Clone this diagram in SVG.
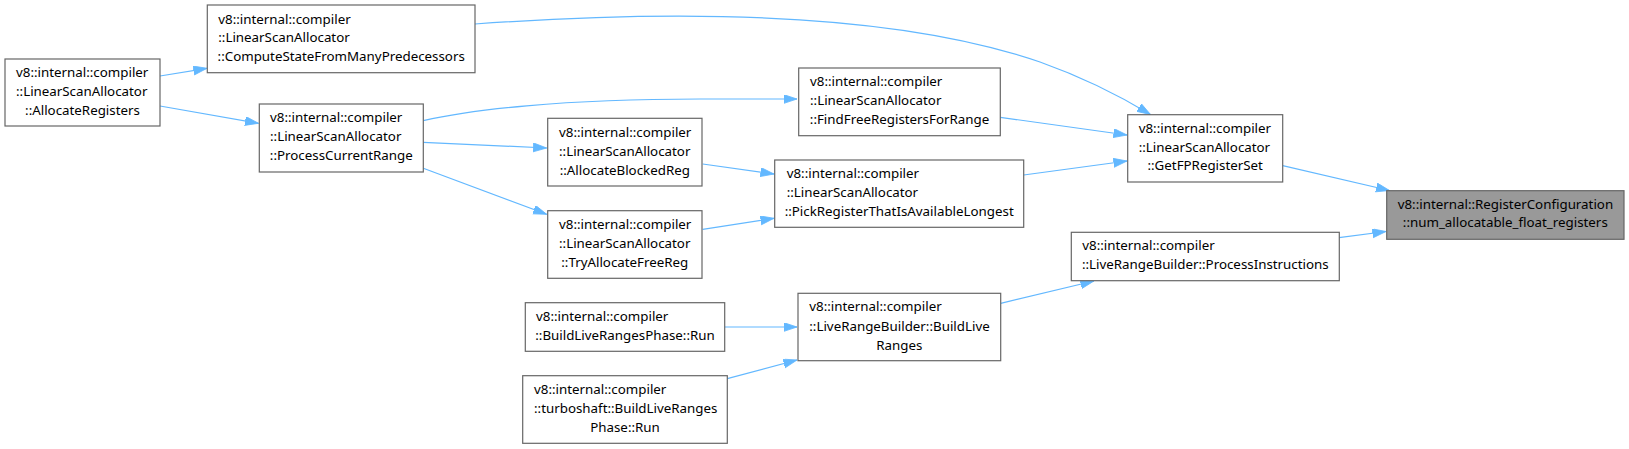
<svg xmlns="http://www.w3.org/2000/svg" width="1629" height="449" viewBox="0 0 1629 449">
<style>
.box{fill:#ffffff;stroke:#666666;stroke-width:1.2}
.hl{fill:#999999;stroke:#666666;stroke-width:1.2}
text{font-family:"Noto Sans","DejaVu Sans",sans-serif;font-size:13.33px;fill:#000000}
.m{text-anchor:middle}
.e{fill:none;stroke:#63b8ff;stroke-width:1.2;marker-end:url(#ah)}
</style>
<defs>
<marker id="ah" markerUnits="userSpaceOnUse" markerWidth="14" markerHeight="10" refX="13.5" refY="4.5" orient="auto">
<path d="M0,0 L13.5,4.5 L0,9 Z" fill="#63b8ff" stroke="#63b8ff" stroke-width="0.8"/>
</marker>
</defs>
<rect width="1629" height="449" fill="#ffffff"/>
<g id="edges">
<path class="e" d="M160,76 L207,68.3"/>
<path class="e" d="M160,106 L258.5,123.3"/>
<path class="e" d="M475,24 C700,8 900,14 1040,62 C1085,78 1120,96 1150.5,114.5"/>
<path class="e" d="M423.3,120.7 C470,110 560,99 700,99 L797,99"/>
<path class="e" d="M423.3,142.3 L546.7,148"/>
<path class="e" d="M423.3,168.3 L546.7,214.3"/>
<path class="e" d="M702.7,164 L774,174"/>
<path class="e" d="M702.7,229.3 L774,218.3"/>
<path class="e" d="M1000.3,117.3 L1127,135"/>
<path class="e" d="M1023.7,175 L1127,161"/>
<path class="e" d="M1282.7,165.7 L1389.5,190.5"/>
<path class="e" d="M1339,237.7 L1386,231.5"/>
<path class="e" d="M1000.7,303.3 L1094,281"/>
<path class="e" d="M724.7,327 L797,327"/>
<path class="e" d="M727.3,378.7 L797,360"/>
</g>
<g id="n_allocateregisters">
<rect class="box" x="5" y="59" width="155" height="67"/>
<text x="16" y="76.5">v8::internal::compiler</text>
<text x="16" y="95.5">::LinearScanAllocator</text>
<text class="m" x="82.5" y="114.5">::AllocateRegisters</text>
</g>
<g id="n_computestate">
<rect class="box" x="207.3" y="5" width="267.7" height="67.7"/>
<text x="218.3" y="23.5">v8::internal::compiler</text>
<text x="218.3" y="42.3">::LinearScanAllocator</text>
<text class="m" x="341.2" y="61.2">::ComputeStateFromManyPredecessors</text>
</g>
<g id="n_processcurrentrange">
<rect class="box" x="259.3" y="104" width="164" height="68"/>
<text x="270" y="122.2">v8::internal::compiler</text>
<text x="270" y="141.2">::LinearScanAllocator</text>
<text class="m" x="341.3" y="160.2">::ProcessCurrentRange</text>
</g>
<g id="n_findfree">
<rect class="box" x="798.7" y="68" width="201.6" height="67.7"/>
<text x="810" y="85.8">v8::internal::compiler</text>
<text x="810" y="104.5">::LinearScanAllocator</text>
<text class="m" x="899.5" y="123.5">::FindFreeRegistersForRange</text>
</g>
<g id="n_allocateblocked">
<rect class="box" x="547.7" y="118.3" width="154.3" height="67.7"/>
<text x="559" y="136.5">v8::internal::compiler</text>
<text x="559" y="155.5">::LinearScanAllocator</text>
<text class="m" x="624.8" y="174.5">::AllocateBlockedReg</text>
</g>
<g id="n_pickregister">
<rect class="box" x="774.7" y="160" width="249" height="67.3"/>
<text x="786.7" y="177.8">v8::internal::compiler</text>
<text x="786.7" y="196.8">::LinearScanAllocator</text>
<text class="m" x="899.2" y="215.8">::PickRegisterThatIsAvailableLongest</text>
</g>
<g id="n_tryallocate">
<rect class="box" x="547.7" y="210.7" width="154.3" height="67.6"/>
<text x="559" y="229.2">v8::internal::compiler</text>
<text x="559" y="247.8">::LinearScanAllocator</text>
<text class="m" x="624.8" y="267.2">::TryAllocateFreeReg</text>
</g>
<g id="n_getfpregisterset">
<rect class="box" x="1127.7" y="114.7" width="155" height="67.3"/>
<text x="1138.7" y="132.8">v8::internal::compiler</text>
<text x="1138.7" y="151.5">::LinearScanAllocator</text>
<text class="m" x="1205.2" y="170.2">::GetFPRegisterSet</text>
</g>
<g id="n_registerconfiguration">
<rect class="hl" x="1386.7" y="190.7" width="237.3" height="48.6"/>
<text x="1397.7" y="208.5">v8::internal::RegisterConfiguration</text>
<text class="m" x="1505.3" y="227.2">::num_allocatable_float_registers</text>
</g>
<g id="n_processinstructions">
<rect class="box" x="1071.3" y="232.3" width="268" height="48.4"/>
<text x="1082.3" y="250.2">v8::internal::compiler</text>
<text class="m" x="1205.3" y="268.8">::LiveRangeBuilder::ProcessInstructions</text>
</g>
<g id="n_buildliveranges">
<rect class="box" x="798" y="293.3" width="202.7" height="67.4"/>
<text x="809.3" y="311.2">v8::internal::compiler</text>
<text x="809.3" y="330.5">::LiveRangeBuilder::BuildLive</text>
<text class="m" x="899.3" y="349.5">Ranges</text>
</g>
<g id="n_buildliverangesphase">
<rect class="box" x="525.3" y="302.7" width="199.4" height="48.6"/>
<text x="536" y="321.2">v8::internal::compiler</text>
<text class="m" x="625" y="339.5">::BuildLiveRangesPhase::Run</text>
</g>
<g id="n_turboshaft">
<rect class="box" x="522.7" y="375.7" width="204.6" height="67.6"/>
<text x="534" y="393.8">v8::internal::compiler</text>
<text x="534" y="412.8">::turboshaft::BuildLiveRanges</text>
<text class="m" x="625" y="431.8">Phase::Run</text>
</g>
</svg>
